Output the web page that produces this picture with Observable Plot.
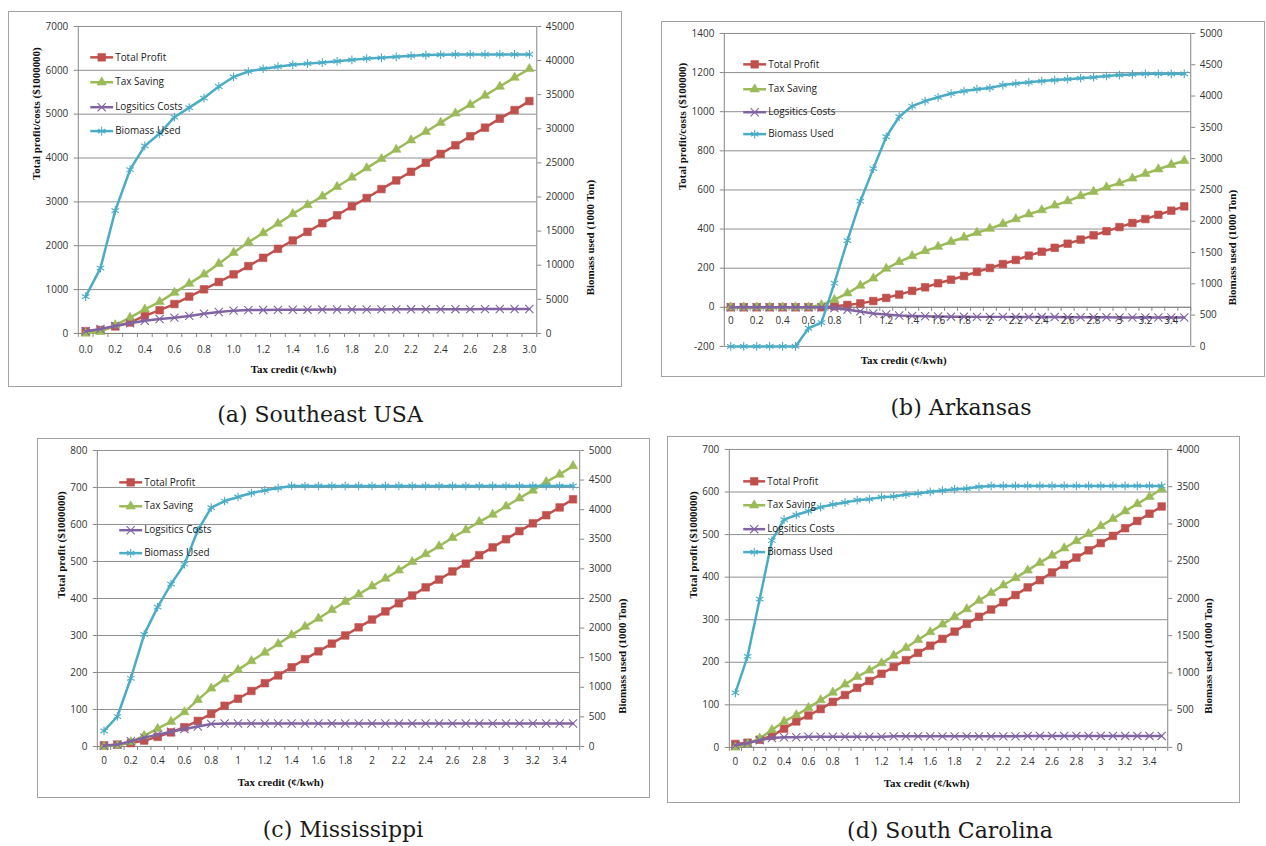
<!DOCTYPE html>
<html><head><meta charset="utf-8">
<script src="https://cdn.jsdelivr.net/npm/d3@7"></script>
<script src="https://cdn.jsdelivr.net/npm/@observablehq/plot@0.6"></script>
<style>
html,body{margin:0;padding:0;background:#fff}
body{width:1266px;height:846px;position:relative;overflow:hidden}
.panel{position:absolute;box-sizing:border-box;border:1px solid #a3a3a3;background:#fff}
.panel svg{position:absolute;left:-1px;top:-1px;overflow:visible}
.cap{position:absolute;font-family:"DejaVu Serif",serif;font-size:22px;color:#1a1a1a;transform:translate(-50%,-50%);white-space:nowrap}
</style></head><body>
<script>
// ---------- data ----------
const taxCreditA = [0.0,0.1,0.2,0.3,0.4,0.5,0.6,0.7,0.8,0.9,1.0,1.1,1.2,1.3,1.4,1.5,1.6,1.7,1.8,1.9,2.0,2.1,2.2,2.3,2.4,2.5,2.6,2.7,2.8,2.9,3.0];
const taxCreditB = [0,0.1,0.2,0.3,0.4,0.5,0.6,0.7,0.8,0.9,1,1.1,1.2,1.3,1.4,1.5,1.6,1.7,1.8,1.9,2,2.1,2.2,2.3,2.4,2.5,2.6,2.7,2.8,2.9,3,3.1,3.2,3.3,3.4,3.5];
const xLabelsA = [0.0,0.2,0.4,0.6,0.8,1.0,1.2,1.4,1.6,1.8,2.0,2.2,2.4,2.6,2.8,3.0];
const xLabelsB = [0,0.2,0.4,0.6,0.8,1,1.2,1.4,1.6,1.8,2,2.2,2.4,2.6,2.8,3,3.2,3.4];
const seriesNames = ["Total Profit","Tax Saving","Logsitics Costs","Biomass Used"];

// (a) Southeast USA
const seProfit = [50,80,160,250,400,530,670,840,1006,1173,1347,1536,1725,1930,2119,2316,2513,2694,2899,3088,3292,3489,3686,3890,4094,4291,4495,4692,4897,5093,5298];
const seTax = [0,40,190,360,550,720,930,1135,1347,1590,1840,2080,2290,2505,2725,2930,3125,3345,3557,3770,3980,4193,4405,4600,4806,5018,5214,5426,5630,5835,6032];
const seLogistics = [50,100,170,230,290,330,360,400,450,490,520,532,536,538,540,542,544,545,546,547,548,549,550,551,552,553,554,555,556,557,558];
const seBiomass = [5400,9580,18000,24000,27500,29300,31700,33100,34500,36200,37600,38400,38800,39100,39400,39550,39700,39900,40100,40300,40400,40550,40700,40800,40850,40900,40900,40900,40900,40900,40900];
const seLeftTicks = [0,1000,2000,3000,4000,5000,6000,7000];
const seRightTicks = [0,5000,10000,15000,20000,25000,30000,35000,40000,45000];

// (b) Arkansas
const arProfit = [0,0,0,0,0,0,0,0,5,12,20,32,48,65,84,102,123,141,160,181,201,221,242,264,284,304,325,346,368,389,410,431,451,473,494,516];
const arTax = [0,0,0,0,0,0,0,12,38,72,111,148,198,232,262,288,310,335,357,381,402,426,451,476,497,521,543,569,591,614,635,659,683,706,729,749];
const arLogistics = [0,0,0,0,0,0,0,0,-4,-13,-21,-32,-37,-42,-44,-46,-47,-48,-48,-49,-49,-49,-50,-50,-50,-50,-51,-51,-51,-51,-52,-52,-52,-52,-52,-52];
const arBiomass = [0,0,0,0,0,0,290,380,1010,1690,2320,2840,3350,3670,3840,3920,3980,4040,4080,4110,4130,4175,4200,4220,4240,4255,4270,4285,4300,4320,4335,4345,4355,4355,4355,4355];
const arLeftTicks = [-200,0,200,400,600,800,1000,1200,1400];
const arRightTicks = [0,500,1000,1500,2000,2500,3000,3500,4000,4500,5000];

// (c) Mississippi
const msProfit = [3,5,9,16,26,38,52,69,88,110,129,150,171,192,214,236,257,278,300,322,343,365,387,408,430,451,473,494,517,538,560,582,603,625,646,668];
const msTax = [0,3,12,29,48,67,93,126,157,182,207,231,254,277,301,324,346,369,391,411,433,454,476,499,520,541,564,585,607,627,649,671,692,715,735,758];
const msLogistics = [2,5,14,24,32,40,47,54,61,62,62,62,62,62,62,62,62,62,62,62,62,62,62,62,62,62,62,62,62,62,62,62,62,62,62,62];
const msBiomass = [264,506,1152,1893,2354,2742,3079,3652,4034,4146,4214,4281,4326,4365,4400,4400,4400,4400,4400,4400,4400,4400,4400,4400,4400,4400,4400,4400,4400,4400,4400,4400,4400,4400,4400,4400];
const msLeftTicks = [0,100,200,300,400,500,600,700,800];
const msRightTicks = [0,500,1000,1500,2000,2500,3000,3500,4000,4500,5000];

// (d) South Carolina
const scProfit = [8,11,18,27,44,61,75,90,107,123,140,156,173,189,205,222,239,255,272,290,307,324,341,358,376,393,411,429,446,463,480,497,515,532,549,566];
const scTax = [0,8,21,41,61,76,93,111,129,148,166,181,198,216,234,253,271,289,307,325,345,363,381,398,416,434,451,468,485,502,520,537,555,572,589,607];
const scLogistics = [5,10,17,22,24,24,25,25,25,25,25,25,25,26,26,26,26,26,26,26,26,26,26,26,27,27,27,27,27,27,27,27,27,27,27,27];
const scBiomass = [733,1222,1991,2778,3058,3120,3173,3226,3262,3289,3320,3333,3360,3369,3395,3409,3431,3449,3466,3475,3498,3510,3510,3510,3510,3510,3510,3510,3510,3510,3510,3510,3510,3510,3510,3510];
const scLeftTicks = [0,100,200,300,400,500,600,700];
const scRightTicks = [0,500,1000,1500,2000,2500,3000,3500,4000];

// ---------- styles ----------
const COLORS = ["#C0504D","#9BBB59","#8064A2","#4BACC6"];
const SYMBOLS = ["square","triangle","times","asterisk"];
const RADII = [4.3,3.5,3.8,4.1];
const GRID = "#8f8f8f", AXIS = "#868686", TEXT = "#333333";
const SANS = "'Open Sans', 'Noto Sans', sans-serif";
const SERIF = "'Liberation Serif', 'Times New Roman', serif";
const fmtA = d3.format(".1f");
const fmtB = d => String(+d.toFixed(1));

function hline(half) {
  return {draw(ctx) { ctx.moveTo(-half, 0); ctx.lineTo(half, 0); }};
}
function markerOpts(i) {
  return i < 2
    ? {fill: COLORS[i], stroke: COLORS[i], strokeWidth: 0.6}
    : {fill: "none", stroke: COLORS[i], strokeWidth: 1.1};
}

function drawPanel(p) {
  const [l0, l1] = p.leftDomain, [r0, r1] = p.rightDomain;
  const k = (l1 - l0) / (r1 - r0);
  const toL = v => l0 + (v - r0) * k;
  const fromL = v => r0 + (v - l0) / k;
  const xs = p.x;
  const half = (xs[1] - xs[0]) / 2;
  const xDom = [xs[0] - half, xs[xs.length - 1] + half];
  const bounds = xs.map(v => v - half).concat([xs[xs.length - 1] + half]);
  const y0 = p.axisAt;
  const plotW = p.width - p.marginLeft - p.marginRight;
  const lineHalf = (p.legendLine[1] - p.legendLine[0]) / 2;
  const lineCx = (p.legendLine[0] + p.legendLine[1]) / 2;

  const marks = [
    Plot.ruleY(p.leftTicks, {stroke: GRID, strokeWidth: 1}),
    Plot.ruleX(xDom, {stroke: AXIS, strokeWidth: 1}),
    Plot.ruleY([y0], {stroke: AXIS, strokeWidth: 1}),
    Plot.ruleX(bounds, {x: d => d, y1: () => y0, y2: () => y0, insetBottom: -4, stroke: AXIS}),
    Plot.axisY(p.leftTicks, {anchor: "left", tickSize: 4, tickPadding: 6, stroke: AXIS, fill: TEXT, label: null,
      tickFormat: d => String(d), fontFamily: SANS, fontSize: 10}),
    Plot.axisY(p.rightTicks.map(toL), {anchor: "right", tickSize: 4, tickPadding: 5, stroke: AXIS, fill: TEXT, label: null,
      tickFormat: d => String(Math.round(fromL(d))), fontFamily: SANS, fontSize: 10})
  ];

  p.series.forEach((vals, i) => {
    const right = i === 3;
    const pts = xs.map((x, j) => ({x, y: right ? toL(vals[j]) : vals[j]}));
    marks.push(Plot.line(pts, {x: "x", y: "y", stroke: COLORS[i], strokeWidth: 2.5, strokeLinejoin: "round"}));
    marks.push(Plot.dot(pts, {x: "x", y: "y", symbol: SYMBOLS[i], r: RADII[i], ...markerOpts(i)}));
  });

  marks.push(Plot.text(p.xLabels, {x: d => d, y: () => y0, dy: p.xLabelDy, text: p.xFormat, fill: TEXT,
    lineAnchor: "middle", fontFamily: SANS, fontSize: 10}));

  seriesNames.forEach((name, i) => {
    const dy = p.legendRows[i];
    marks.push(Plot.dot([name], {frameAnchor: "top-left", dx: lineCx, dy, symbol: hline(lineHalf), r: 3,
      stroke: COLORS[i], strokeWidth: 2.5, fill: "none"}));
    marks.push(Plot.dot([name], {frameAnchor: "top-left", dx: lineCx, dy, symbol: SYMBOLS[i], r: RADII[i], ...markerOpts(i)}));
    marks.push(Plot.text([name], {frameAnchor: "top-left", dx: p.legendText, dy, text: d => d, textAnchor: "start",
      lineAnchor: "middle", fill: "#222", fontFamily: SANS, fontSize: 10}));
  });

  const titleStyle = {text: d => d, fill: "#111", fontFamily: SERIF, fontWeight: "bold", fontSize: 11, lineAnchor: "middle"};
  marks.push(Plot.text([p.leftTitle], {frameAnchor: "left", dx: p.leftTitleX - p.marginLeft, rotate: -90, ...titleStyle}));
  marks.push(Plot.text(["Biomass used (1000 Ton)"], {frameAnchor: "right", dx: p.rightTitleX - (p.width - p.marginRight), rotate: -90, ...titleStyle}));
  marks.push(Plot.text(["Tax credit (¢/kwh)"], {frameAnchor: "bottom",
    dx: p.xTitle[0] - (p.marginLeft + plotW / 2), dy: p.xTitle[1] - (p.height - p.marginBottom), ...titleStyle}));

  const chart = Plot.plot({
    width: p.width, height: p.height,
    marginLeft: p.marginLeft, marginRight: p.marginRight, marginTop: p.marginTop, marginBottom: p.marginBottom,
    x: {type: "linear", domain: xDom, axis: null},
    y: {type: "linear", domain: p.leftDomain, axis: null},
    style: {fontFamily: SANS, fontSize: "10px", background: "transparent", overflow: "visible", color: TEXT},
    marks
  });

  const box = document.createElement("div");
  box.className = "panel";
  Object.assign(box.style, {left: p.left + "px", top: p.top + "px", width: p.width + "px", height: p.height + "px"});
  box.appendChild(chart);
  document.body.appendChild(box);

  const cap = document.createElement("div");
  cap.className = "cap";
  cap.textContent = p.caption;
  Object.assign(cap.style, {left: p.captionAt[0] + "px", top: p.captionAt[1] + "px"});
  document.body.appendChild(cap);
}

drawPanel({
  caption: "(a) Southeast USA", captionAt: [320, 414],
  left: 8, top: 11, width: 614, height: 376,
  marginLeft: 70, marginRight: 84, marginTop: 15, marginBottom: 53,
  x: taxCreditA, xLabels: xLabelsA, xFormat: fmtA, xLabelDy: 16,
  leftDomain: [0, 7000], rightDomain: [0, 45000], leftTicks: seLeftTicks, rightTicks: seRightTicks, axisAt: 0,
  series: [seProfit, seTax, seLogistics, seBiomass],
  leftTitle: "Total profit/costs ($1000000)", leftTitleX: 28, rightTitleX: 584, xTitle: [286, 359],
  legendLine: [12, 35], legendText: 37, legendRows: [31, 56, 81, 105]
});
drawPanel({
  caption: "(b) Arkansas", captionAt: [961, 407],
  left: 661, top: 21, width: 604, height: 356,
  marginLeft: 63, marginRight: 73, marginTop: 12, marginBottom: 30,
  x: taxCreditB, xLabels: xLabelsB, xFormat: fmtB, xLabelDy: 14,
  leftDomain: [-200, 1400], rightDomain: [0, 5000], leftTicks: arLeftTicks, rightTicks: arRightTicks, axisAt: 0,
  series: [arProfit, arTax, arLogistics, arBiomass],
  leftTitle: "Total profit/costs ($100000)", leftTitleX: 21, rightTitleX: 573, xTitle: [243, 340],
  legendLine: [19, 42], legendText: 44, legendRows: [31, 56, 79, 101]
});
drawPanel({
  caption: "(c) Mississippi", captionAt: [343, 829],
  left: 37, top: 438, width: 613, height: 360,
  marginLeft: 60, marginRight: 69, marginTop: 12, marginBottom: 51,
  x: taxCreditB, xLabels: xLabelsB, xFormat: fmtB, xLabelDy: 14,
  leftDomain: [0, 800], rightDomain: [0, 5000], leftTicks: msLeftTicks, rightTicks: msRightTicks, axisAt: 0,
  series: [msProfit, msTax, msLogistics, msBiomass],
  leftTitle: "Total profit ($1000000)", leftTitleX: 24, rightTitleX: 587, xTitle: [244, 345],
  legendLine: [22, 45], legendText: 47, legendRows: [32, 56, 80, 103]
});
drawPanel({
  caption: "(d) South Carolina", captionAt: [950, 830],
  left: 667, top: 436, width: 573, height: 367,
  marginLeft: 62, marginRight: 71, marginTop: 13, marginBottom: 55,
  x: taxCreditB, xLabels: xLabelsB, xFormat: fmtB, xLabelDy: 14,
  leftDomain: [0, 700], rightDomain: [0, 4000], leftTicks: scLeftTicks, rightTicks: scRightTicks, axisAt: 0,
  series: [scProfit, scTax, scLogistics, scBiomass],
  leftTitle: "Total profit ($1000000)", leftTitleX: 26, rightTitleX: 543, xTitle: [260, 348],
  legendLine: [14, 36], legendText: 38, legendRows: [32, 56, 80, 103]
});
</script>
</body></html>
